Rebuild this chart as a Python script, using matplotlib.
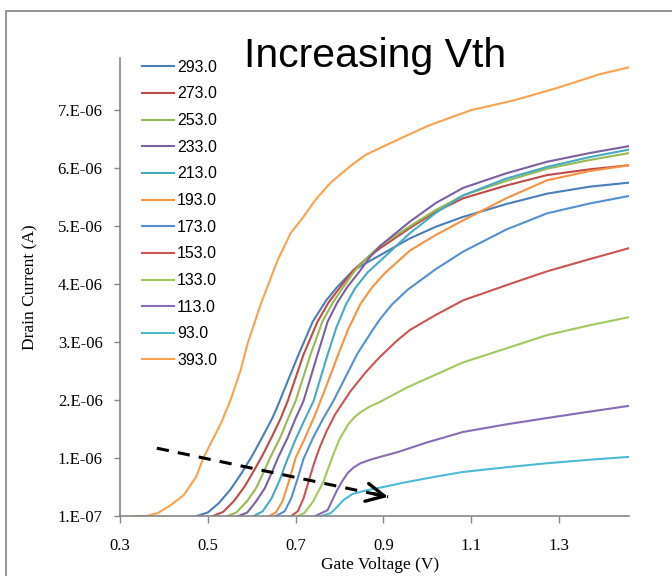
import numpy as np
import matplotlib
matplotlib.use("Agg")
import matplotlib.pyplot as plt

# Transfer curves: gate voltage (V) and drain current (uA) for each temperature
v_293 = [0.475, 0.50, 0.525, 0.552, 0.578, 0.602, 0.625, 0.648, 0.661, 0.705, 0.739, 0.77, 0.795, 0.832, 0.86, 0.893,
         0.961, 1.02, 1.082, 1.18, 1.273, 1.37, 1.46]
i_293 = [0.10, 0.16, 0.32, 0.56, 0.85, 1.15, 1.47, 1.80, 2.03, 2.85, 3.45, 3.82, 4.05, 4.34, 4.46, 4.60,
         4.89, 5.09, 5.26, 5.48, 5.66, 5.78, 5.85]

v_273 = [0.512, 0.535, 0.56, 0.585, 0.605, 0.625, 0.645, 0.666, 0.682, 0.718, 0.75, 0.775, 0.802, 0.832, 0.86, 0.893,
         0.961, 1.02, 1.082, 1.18, 1.273, 1.37, 1.46]
i_273 = [0.10, 0.17, 0.36, 0.62, 0.88, 1.15, 1.45, 1.78, 2.08, 2.88, 3.45, 3.78, 4.05, 4.34, 4.53, 4.72,
         5.07, 5.35, 5.58, 5.80, 5.98, 6.08, 6.15]

v_253 = [0.545, 0.565, 0.59, 0.61, 0.627, 0.643, 0.665, 0.683, 0.70, 0.734, 0.761, 0.785, 0.809, 0.836, 0.865, 0.893,
         0.961, 1.02, 1.082, 1.18, 1.273, 1.37, 1.46]
i_253 = [0.10, 0.16, 0.36, 0.58, 0.85, 1.12, 1.45, 1.78, 2.08, 2.88, 3.45, 3.78, 4.05, 4.34, 4.57, 4.76,
         5.10, 5.38, 5.63, 5.88, 6.09, 6.24, 6.36]

v_233 = [0.57, 0.59, 0.61, 0.63, 0.646, 0.661, 0.682, 0.70, 0.718, 0.75, 0.773, 0.795, 0.818, 0.848, 0.87, 0.893,
         0.961, 1.02, 1.082, 1.18, 1.273, 1.37, 1.46]
i_233 = [0.10, 0.16, 0.35, 0.58, 0.85, 1.12, 1.45, 1.78, 2.08, 2.88, 3.45, 3.78, 4.05, 4.34, 4.57, 4.76,
         5.18, 5.50, 5.76, 6.01, 6.21, 6.36, 6.48]

v_213 = [0.605, 0.625, 0.645, 0.664, 0.68, 0.70, 0.722, 0.741, 0.773, 0.793, 0.815, 0.836, 0.864, 0.893,
         0.961, 1.02, 1.082, 1.18, 1.273, 1.37, 1.46]
i_213 = [0.10, 0.18, 0.40, 0.72, 1.05, 1.42, 1.78, 2.08, 2.88, 3.35, 3.75, 4.03, 4.30, 4.50,
         4.98, 5.33, 5.63, 5.92, 6.12, 6.29, 6.42]

v_193 = [0.64, 0.655, 0.67, 0.685, 0.70, 0.72, 0.742, 0.764, 0.782, 0.798, 0.82, 0.848, 0.875, 0.905, 0.961,
         1.02, 1.082, 1.18, 1.273, 1.37, 1.46]
i_193 = [0.10, 0.16, 0.35, 0.70, 1.10, 1.42, 1.80, 2.22, 2.58, 2.90, 3.32, 3.76, 4.05, 4.30, 4.68,
         4.95, 5.20, 5.58, 5.89, 6.05, 6.15]

v_173 = [0.655, 0.675, 0.69, 0.705, 0.718, 0.74, 0.763, 0.786, 0.841, 0.875, 0.893, 0.92, 0.955,
         1.02, 1.082, 1.18, 1.273, 1.37, 1.46]
i_173 = [0.10, 0.18, 0.40, 0.75, 1.08, 1.45, 1.78, 2.08, 2.90, 3.30, 3.50, 3.75, 4.00,
         4.36, 4.66, 5.04, 5.32, 5.49, 5.62]

v_153 = [0.69, 0.705, 0.718, 0.73, 0.741, 0.755, 0.77, 0.79, 0.825, 0.86, 0.893, 0.932, 0.961,
         1.02, 1.082, 1.18, 1.273, 1.37, 1.46]
i_153 = [0.10, 0.18, 0.40, 0.70, 0.98, 1.28, 1.55, 1.85, 2.25, 2.58, 2.85, 3.13, 3.31,
         3.57, 3.82, 4.08, 4.32, 4.53, 4.72]

v_133 = [0.705, 0.72, 0.74, 0.764, 0.784, 0.80, 0.82, 0.835, 0.85, 0.87, 0.893, 0.955,
         1.02, 1.082, 1.18, 1.273, 1.37, 1.46]
i_133 = [0.10, 0.15, 0.35, 0.70, 1.12, 1.42, 1.68, 1.81, 1.90, 1.99, 2.07, 2.32,
         2.54, 2.75, 2.99, 3.22, 3.39, 3.53]

v_113 = [0.745, 0.773, 0.795, 0.808, 0.82, 0.833, 0.848, 0.87, 0.893, 0.932, 1.0, 1.082, 1.18, 1.273, 1.37, 1.46]
i_113 = [0.10, 0.20, 0.55, 0.72, 0.85, 0.94, 1.01, 1.07, 1.12, 1.20, 1.37, 1.55, 1.68, 1.79, 1.90, 2.00]

v_93 = [0.76, 0.78, 0.79, 0.81, 0.83, 0.86, 0.893, 0.95, 1.02, 1.082, 1.18, 1.273, 1.37, 1.46]
i_93 = [0.10, 0.15, 0.22, 0.38, 0.48, 0.54, 0.59, 0.68, 0.78, 0.86, 0.94, 1.01, 1.07, 1.12]

v_393 = [0.332, 0.36, 0.386, 0.416, 0.445, 0.473, 0.491, 0.53, 0.552, 0.575, 0.591, 0.62, 0.659, 0.689, 0.718, 0.745,
         0.78, 0.827, 0.86, 0.907, 0.95, 1.005, 1.10, 1.198, 1.295, 1.393, 1.46]
i_393 = [0.10, 0.10, 0.15, 0.29, 0.46, 0.77, 1.12, 1.70, 2.10, 2.62, 3.08, 3.74, 4.51, 4.98, 5.26, 5.55,
         5.85, 6.15, 6.33, 6.50, 6.65, 6.84, 7.10, 7.27, 7.48, 7.72, 7.84]

temps = ["293.0", "273.0", "253.0", "233.0", "213.0", "193.0",
         "173.0", "153.0", "133.0", "113.0", "93.0", "393.0"]
curves = [(v_293, i_293), (v_273, i_273), (v_253, i_253), (v_233, i_233),
          (v_213, i_213), (v_193, i_193), (v_173, i_173), (v_153, i_153),
          (v_133, i_133), (v_113, i_113), (v_93, i_93), (v_393, i_393)]
colors = ["#4A7EBB", "#BE4B48", "#98B954", "#7D60A0", "#46AAC5", "#F69240",
          "#5590D3", "#CD5451", "#A2C95C", "#8A6CB6", "#4DBAD6", "#FCA24E"]

x_ticks = [0.3, 0.5, 0.7, 0.9, 1.1, 1.3]
x_tick_labels = ["0.3", "0.5", "0.7", "0.9", "1.1", "1.3"]
y_ticks = [1e-7, 1.1e-6, 2.1e-6, 3.1e-6, 4.1e-6, 5.1e-6, 6.1e-6, 7.1e-6]
y_tick_labels = ["1.E-07", "1.E-06", "2.E-06", "3.E-06", "4.E-06", "5.E-06", "6.E-06", "7.E-06"]

# dashed "increasing Vth" arrow (V, A)
arrow_start = (0.384, 1.27e-6)
arrow_end = (0.911, 0.43e-6)

plt.rcParams["font.family"] = ["Liberation Serif", "DejaVu Serif"]
gray = "#868686"

fig = plt.figure(figsize=(6.72, 5.76), dpi=100)
ax = fig.add_axes([120 / 672, 60 / 576, 509 / 672, 458 / 576])

for (v, i), lab, c in zip(curves, temps, colors):
    ax.plot(v, np.array(i) * 1e-6, color=c, lw=1.5, label=lab)

ax.set_xlim(0.3, 1.46)
ax.set_ylim(1e-7, 8e-6)
ax.set_xticks(x_ticks)
ax.set_xticklabels(x_tick_labels)
ax.set_yticks(y_ticks)
ax.set_yticklabels(y_tick_labels)

for s in ["top", "right"]:
    ax.spines[s].set_visible(False)
for s in ["left", "bottom"]:
    ax.spines[s].set_color(gray)
    ax.spines[s].set_linewidth(1.2)
ax.tick_params(axis="y", direction="out", length=4.5, width=1, color=gray, pad=8, labelsize=12)
ax.tick_params(axis="x", direction="out", length=5, width=1, color=gray, pad=11, labelsize=12)

ax.set_xlabel("Gate Voltage (V)", fontsize=12.5)
ax.set_ylabel("Drain Current (A)", fontsize=12.5)
ax.xaxis.set_label_coords(0.511, -0.090)
ax.yaxis.set_label_coords(-0.16, 0.5)

# arrow: dashed shaft plus open head
ax.plot([arrow_start[0], arrow_end[0]], [arrow_start[1], arrow_end[1]],
        color="black", lw=2.2, dashes=(4, 3))
back = (arrow_end[0] - 0.06 * (arrow_end[0] - arrow_start[0]),
        arrow_end[1] - 0.06 * (arrow_end[1] - arrow_start[1]))
ax.annotate("", xy=arrow_end, xytext=back,
            arrowprops=dict(arrowstyle="->,head_length=1.3,head_width=0.65",
                            lw=2.4, color="black", shrinkA=0, shrinkB=0))

ax.legend(loc="upper left", bbox_to_anchor=(0.043, 0.996), frameon=False,
          prop={"family": "Liberation Sans", "size": 11.5},
          handlelength=2.0, handletextpad=0.2, labelspacing=0.73,
          borderaxespad=0, borderpad=0)

fig.text(375 / 672, 1 - 56 / 576, "Increasing Vth", ha="center", va="center",
         fontsize=29.5, family="Liberation Sans")

# chart area border
fig.add_artist(plt.Rectangle((6 / 672, -0.1), 2, 1 - 11 / 576 + 0.1,
                             transform=fig.transFigure, fill=False,
                             edgecolor="#8c8c8c", lw=1.3))

fig.savefig("out.png", dpi=100)
